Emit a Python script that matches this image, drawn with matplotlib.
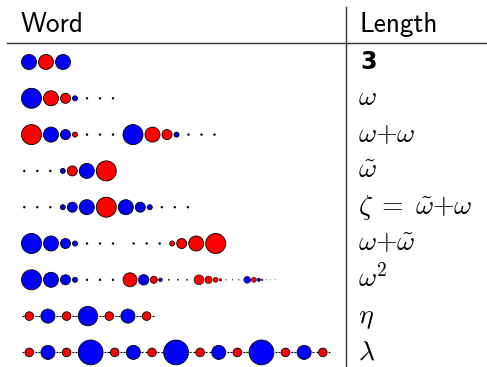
import matplotlib
matplotlib.use('Agg')
import matplotlib.pyplot as plt
from matplotlib.patches import Circle
import numpy as np

plt.rcParams['mathtext.fontset'] = 'cm'

# words as token lists: colour letter + magnitude, '...' = dots, '_' = space
word_three = ['b3', 'r3', 'b3']
word_omega = ['b4', 'r3', 'r2', 'b1', '...']
word_omega_omega = ['r4', 'b3', 'b2', 'r1', '...', 'b4', 'r3', 'r2', 'b1', '...']
word_omega_tilde = ['...', 'b1', 'r2', 'b3', 'r4']
word_zeta = ['...', 'b1', 'b2', 'b3', 'r4', 'b3', 'b2', 'b1', '...']
word_omega_plus_tilde = ['b4', 'b3', 'b2', 'b1', '...', '_', '...', 'r1', 'r2', 'r3', 'r4']
omega_sq_blocks = [['b4', 'b3', 'b2', 'b1'],
                   ['r4', 'b3', 'r2', 'b1'],
                   ['r4', 'r3', 'r2', 'r1'],
                   ['b4', 'r3', 'b2', 'r1']]
word_eta = ['r1', 'b2', 'r1', 'b3', 'r1', 'b2', 'r1']
word_lambda = ['r1', 'b2', 'r1', 'b4', 'r1', 'b2', 'r1', 'b4',
               'r1', 'b2', 'r1', 'b4', 'r1', 'b2', 'r1']

lengths = ['3', r'$\omega$', r'$\omega{+}\omega$', r'$\tilde{\omega}$',
           r'$\zeta\;=\;\tilde{\omega}{+}\omega$', r'$\omega{+}\tilde{\omega}$',
           r'$\omega^{\mathsf{2}}$', r'$\eta$', r'$\lambda$']

colors = {'b': '#0000ff', 'r': '#ff0000'}


def draw_ordinal(ax, tokens, y, x0=21.5):
    cur = x0
    prev = None
    prev_s = 1.0
    for tok, s in tokens:
        if tok == '_':
            cur += 7.7 * s
            continue
        if tok == '...':
            if prev == 'circle':
                first = cur + 9.5 * s
            elif prev == 'dots':
                first = cur + 13 * s
            else:
                first = cur + 2.8 * s
            xs = first + 13 * s * np.arange(3)
            for x in xs:
                ax.add_patch(Circle((x, y), 1.2 * s, fc='black', lw=0))
            cur = xs[-1]
            prev = 'dots'
            prev_s = s
        else:
            r = 2.5 * int(tok[1:]) * s
            if prev == 'circle':
                left = cur + 2 * s
            elif prev == 'dots':
                left = cur + 10 * prev_s
            else:
                left = cur
            ax.add_patch(Circle((left + r, y), r, fc=colors[tok[0]],
                                ec='black', lw=0.6 * min(1, s + 0.2)))
            cur = left + 2 * r
            prev = 'circle'


def draw_dashed(ax, tokens, y, x0=21.5):
    gap = 7.35
    left = x0 + 3.5
    for tok in tokens:
        r = 1.6 + 2.7 * int(tok[1:])
        ax.plot([left - 3.0, left - 0.9], [y, y], color='black', lw=0.8,
                solid_capstyle='butt')
        ax.plot([left + 2 * r + 0.9, left + 2 * r + 3.0], [y, y], color='black',
                lw=0.8, solid_capstyle='butt')
        ax.add_patch(Circle((left + r, y), r, fc=colors[tok[0]], ec='black', lw=0.6))
        left += 2 * r + gap


fig = plt.figure(figsize=(4.87, 3.67), dpi=100)
ax = fig.add_axes([0, 0, 1, 1])
ax.set_xlim(0, 487)
ax.set_ylim(367, 0)
ax.axis('off')

row_y = 62 + 36.3 * np.arange(9)

omega_sq = []
for i, block in enumerate(omega_sq_blocks):
    s = 0.7 ** i
    omega_sq += [(t, s) for t in block] + [('...', s)]

ordinal_rows = [word_three, word_omega, word_omega_omega, word_omega_tilde,
                word_zeta, word_omega_plus_tilde]
for i, w in enumerate(ordinal_rows):
    draw_ordinal(ax, [(t, 1.0) for t in w], row_y[i])
draw_ordinal(ax, omega_sq, row_y[6])
draw_dashed(ax, word_eta, row_y[7])
draw_dashed(ax, word_lambda, row_y[8])

# table rules
ax.plot([7, 487], [43, 43], color='0.2', lw=1)
ax.plot([346, 346], [7, 367], color='0.2', lw=1)

ax.text(21, 32, 'Word', fontsize=19.7, family='cmss10', va='baseline')
ax.text(359, 32, 'Length', fontsize=19.7, family='cmss10', va='baseline')

for i, lab in enumerate(lengths):
    if i == 0:
        ax.text(360, row_y[i] + 7, lab, fontsize=17, fontweight='bold',
                family='DejaVu Sans', va='baseline')
    else:
        ax.text(358, row_y[i] + 7, lab, fontsize=20, va='baseline')

fig.savefig('out.png', dpi=100)
